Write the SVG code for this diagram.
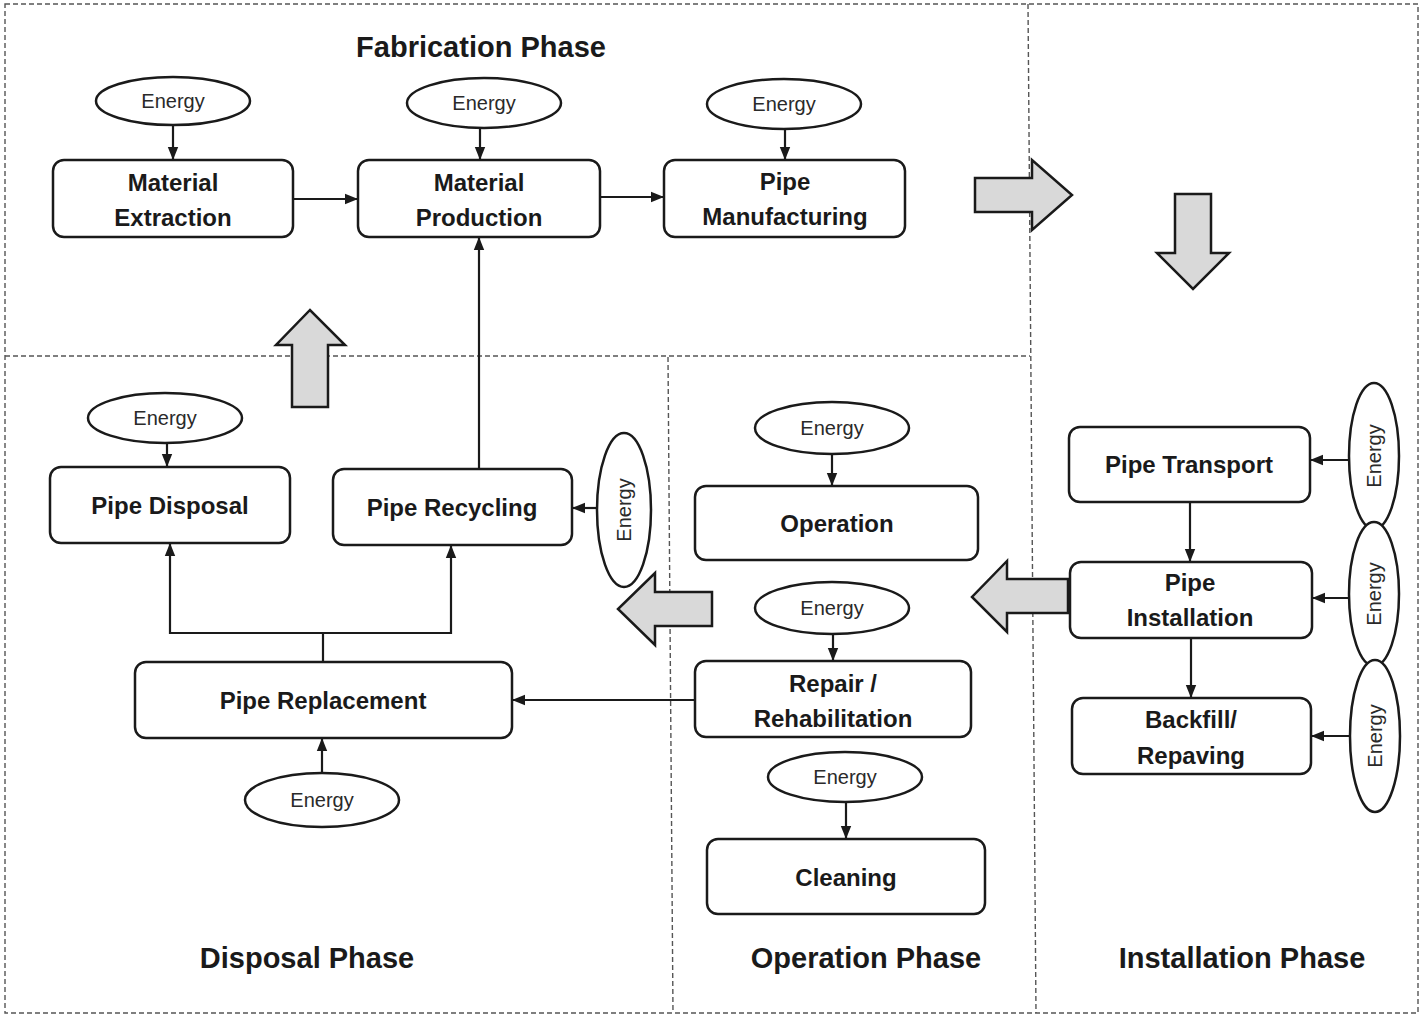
<svg xmlns="http://www.w3.org/2000/svg" width="1422" height="1018" viewBox="0 0 1422 1018">
<defs>
<style>
.div{fill:none;stroke:#555;stroke-width:1.4;stroke-dasharray:5 3}
.box{fill:#fff;stroke:#1a1a1a;stroke-width:2.5}
.ell{fill:#fff;stroke:#1a1a1a;stroke-width:2.5}
.big{fill:#d9d9d9;stroke:#1a1a1a;stroke-width:2.5;stroke-linejoin:miter}
.con{fill:none;stroke:#1a1a1a;stroke-width:2.2}
.t{font-family:"Liberation Sans",Arial,sans-serif;font-weight:bold;font-size:24px;fill:#1a1a1a;text-anchor:middle}
.e{font-family:"Liberation Sans",Arial,sans-serif;font-size:20px;fill:#2a2a2a;text-anchor:middle}
.ph{font-family:"Liberation Sans",Arial,sans-serif;font-weight:bold;font-size:29px;fill:#1a1a1a;text-anchor:middle}
</style>
<marker id="ah" viewBox="0 0 10 10" refX="10" refY="5" markerWidth="13" markerHeight="13" markerUnits="userSpaceOnUse" orient="auto"><path d="M0,1 L10,5 L0,9 z" fill="#1a1a1a"/></marker>
</defs>
<rect width="1422" height="1018" fill="#fff"/>
<g id="dividers">
<rect class="div" x="5" y="4" width="1413" height="1009"/>
<line class="div" x1="5" y1="356" x2="1030" y2="356"/>
<line class="div" x1="1028" y1="4" x2="1036" y2="1013"/>
<line class="div" x1="668" y1="357" x2="673" y2="1013"/>
</g>
<g id="phase-labels">
<text class="ph" x="481" y="57">Fabrication Phase</text>
<text class="ph" x="307" y="968">Disposal Phase</text>
<text class="ph" x="866" y="968">Operation Phase</text>
<text class="ph" x="1242" y="968">Installation Phase</text>
</g>
<g id="phase-arrows">
<polygon class="big" points="975,178 1032,178 1032,160 1072,195 1032,230 1032,212 975,212"/>
<polygon class="big" points="1175,194 1211,194 1211,253 1229,253 1193,289 1157,253 1175,253"/>
<polygon class="big" points="292,407 328,407 328,345 345,345 310,310 276,345 292,345"/>
<polygon class="big" points="712,592 712,626 655,626 655,645 618,609 655,573 655,592"/>
<polygon class="big" points="1068,579 1068,613 1007,613 1007,632 972,597 1007,561 1007,579"/>
</g>
<g id="connectors">
<line class="con" x1="173" y1="126" x2="173" y2="160" marker-end="url(#ah)"/>
<line class="con" x1="480" y1="128" x2="480" y2="160" marker-end="url(#ah)"/>
<line class="con" x1="785" y1="129" x2="785" y2="160" marker-end="url(#ah)"/>
<line class="con" x1="293" y1="199" x2="358" y2="199" marker-end="url(#ah)"/>
<line class="con" x1="600" y1="197" x2="664" y2="197" marker-end="url(#ah)"/>
<line class="con" x1="479" y1="469" x2="479" y2="237" marker-end="url(#ah)"/>
<line class="con" x1="167" y1="443" x2="167" y2="467" marker-end="url(#ah)"/>
<line class="con" x1="597" y1="508" x2="572" y2="508" marker-end="url(#ah)"/>
<path class="con" d="M323,662 V633 H170 V543" marker-end="url(#ah)"/>
<path class="con" d="M323,633 H451 V545" marker-end="url(#ah)"/>
<line class="con" x1="322" y1="773" x2="322" y2="738" marker-end="url(#ah)"/>
<line class="con" x1="695" y1="700" x2="512" y2="700" marker-end="url(#ah)"/>
<line class="con" x1="832" y1="454" x2="832" y2="486" marker-end="url(#ah)"/>
<line class="con" x1="833" y1="634" x2="833" y2="661" marker-end="url(#ah)"/>
<line class="con" x1="846" y1="802" x2="846" y2="839" marker-end="url(#ah)"/>
<line class="con" x1="1190" y1="502" x2="1190" y2="562" marker-end="url(#ah)"/>
<line class="con" x1="1191" y1="638" x2="1191" y2="698" marker-end="url(#ah)"/>
<line class="con" x1="1349" y1="460" x2="1310" y2="460" marker-end="url(#ah)"/>
<line class="con" x1="1349" y1="598" x2="1312" y2="598" marker-end="url(#ah)"/>
<line class="con" x1="1350" y1="736" x2="1311" y2="736" marker-end="url(#ah)"/>
</g>
<g id="energy-extraction"><ellipse class="ell" cx="173" cy="101" rx="77" ry="24"/><text class="e" x="173" y="108">Energy</text></g>
<g id="material-extraction"><rect class="box" x="53" y="160" width="240" height="77" rx="11"/><text class="t" x="173" y="191">Material</text><text class="t" x="173" y="226">Extraction</text></g>
<g id="energy-production"><ellipse class="ell" cx="484" cy="103" rx="77" ry="25"/><text class="e" x="484" y="110">Energy</text></g>
<g id="material-production"><rect class="box" x="358" y="160" width="242" height="77" rx="11"/><text class="t" x="479" y="191">Material</text><text class="t" x="479" y="226">Production</text></g>
<g id="energy-manufacturing"><ellipse class="ell" cx="784" cy="104" rx="77" ry="25"/><text class="e" x="784" y="111">Energy</text></g>
<g id="pipe-manufacturing"><rect class="box" x="664" y="160" width="241" height="77" rx="11"/><text class="t" x="785" y="190">Pipe</text><text class="t" x="785" y="225">Manufacturing</text></g>
<g id="energy-disposal"><ellipse class="ell" cx="165" cy="418" rx="77" ry="25"/><text class="e" x="165" y="425">Energy</text></g>
<g id="pipe-disposal"><rect class="box" x="50" y="467" width="240" height="76" rx="11"/><text class="t" x="170" y="514">Pipe Disposal</text></g>
<g id="pipe-recycling"><rect class="box" x="333" y="469" width="239" height="76" rx="11"/><text class="t" x="452" y="516">Pipe Recycling</text></g>
<g id="energy-recycling"><ellipse class="ell" cx="624" cy="510" rx="27" ry="77"/><text class="e" x="624" y="517" transform="rotate(-90 624 510)">Energy</text></g>
<g id="pipe-replacement"><rect class="box" x="135" y="662" width="377" height="76" rx="11"/><text class="t" x="323" y="709">Pipe Replacement</text></g>
<g id="energy-replacement"><ellipse class="ell" cx="322" cy="800" rx="77" ry="27"/><text class="e" x="322" y="807">Energy</text></g>
<g id="energy-operation"><ellipse class="ell" cx="832" cy="428" rx="77" ry="26"/><text class="e" x="832" y="435">Energy</text></g>
<g id="operation"><rect class="box" x="695" y="486" width="283" height="74" rx="11"/><text class="t" x="837" y="532">Operation</text></g>
<g id="energy-repair"><ellipse class="ell" cx="832" cy="608" rx="77" ry="26"/><text class="e" x="832" y="615">Energy</text></g>
<g id="repair-rehabilitation"><rect class="box" x="695" y="661" width="276" height="76" rx="11"/><text class="t" x="833" y="692">Repair /</text><text class="t" x="833" y="727">Rehabilitation</text></g>
<g id="energy-cleaning"><ellipse class="ell" cx="845" cy="777" rx="77" ry="25"/><text class="e" x="845" y="784">Energy</text></g>
<g id="cleaning"><rect class="box" x="707" y="839" width="278" height="75" rx="11"/><text class="t" x="846" y="886">Cleaning</text></g>
<g id="pipe-transport"><rect class="box" x="1069" y="427" width="241" height="75" rx="11"/><text class="t" x="1189" y="473">Pipe Transport</text></g>
<g id="energy-transport"><ellipse class="ell" cx="1374" cy="456" rx="25" ry="73"/><text class="e" x="1374" y="463" transform="rotate(-90 1374 456)">Energy</text></g>
<g id="pipe-installation"><rect class="box" x="1070" y="562" width="242" height="76" rx="11"/><text class="t" x="1190" y="591">Pipe</text><text class="t" x="1190" y="626">Installation</text></g>
<g id="energy-installation"><ellipse class="ell" cx="1374" cy="594" rx="25" ry="72"/><text class="e" x="1374" y="601" transform="rotate(-90 1374 594)">Energy</text></g>
<g id="backfill-repaving"><rect class="box" x="1072" y="698" width="239" height="76" rx="11"/><text class="t" x="1191" y="728">Backfill/</text><text class="t" x="1191" y="764">Repaving</text></g>
<g id="energy-backfill"><ellipse class="ell" cx="1375" cy="736" rx="25" ry="76"/><text class="e" x="1375" y="743" transform="rotate(-90 1375 736)">Energy</text></g>
</svg>
